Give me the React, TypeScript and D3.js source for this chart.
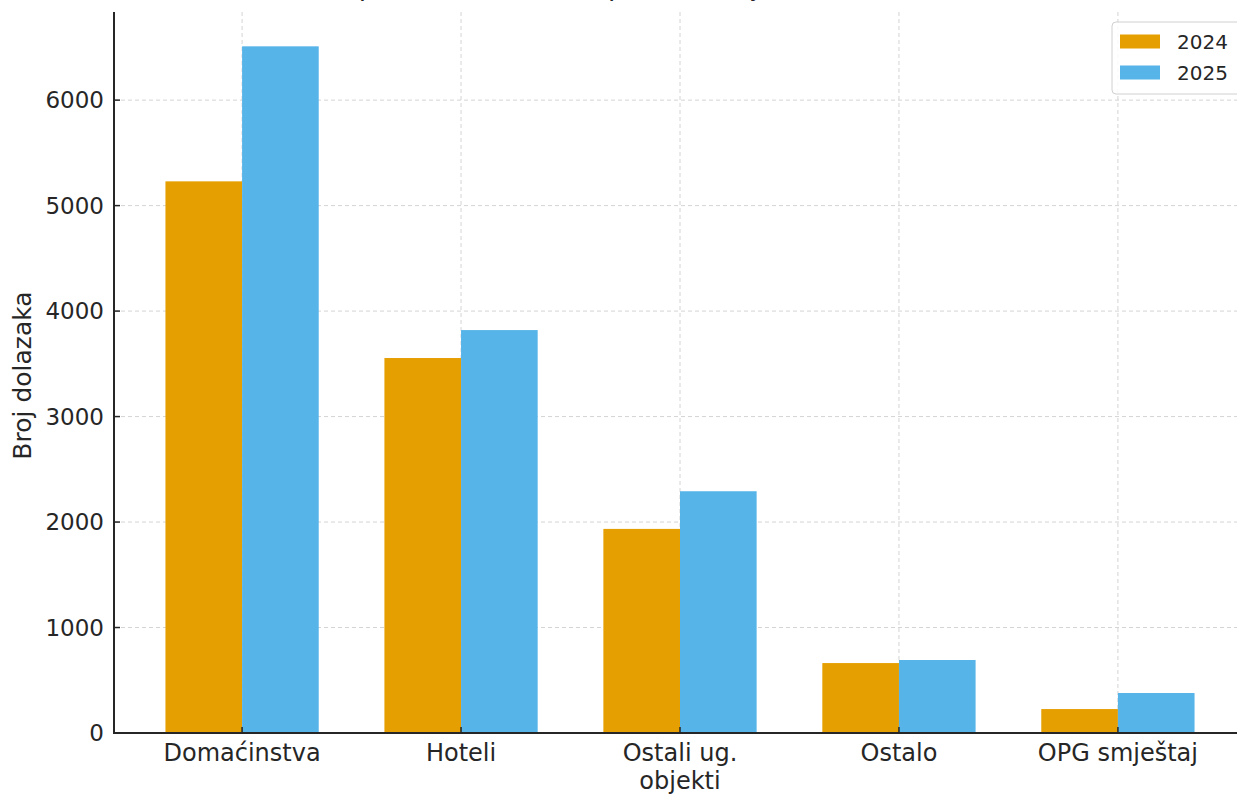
import React, { useEffect, useRef } from 'react';
import * as d3 from 'd3';

// Accommodation categories and arrivals per year
const categories = ['Domaćinstva', 'Hoteli', 'Ostali ug.\nobjekti', 'Ostalo', 'OPG smještaj'];
const years = ['2024', '2025'];
const values2024 = [5230, 3555, 1935, 663, 227];
const values2025 = [6510, 3820, 2292, 692, 379];
const yTicks = [0, 1000, 2000, 3000, 4000, 5000, 6000];

const colors = ['#E69F00', '#56B4E9'];
const textColor = '#262626';
const font = "'DejaVu Sans', sans-serif";

const App = () => {
  const svgRef = useRef<SVGSVGElement | null>(null);

  useEffect(() => {
    if (!svgRef.current) return;
    const width = 1237;
    const height = 794;
    const svg = d3.select(svgRef.current);
    svg.attr('viewBox', `0 0 ${width} ${height}`);
    svg.selectAll('*').remove();

    const barW = 0.35;
    const n = categories.length;
    const xMin = -barW - 0.05 * (n - 1 + 2 * barW);
    const xMax = n - 1 + barW + 0.05 * (n - 1 + 2 * barW);
    const x = d3.scaleLinear().domain([xMin, xMax]).range([114, 1246]);

    const maxVal = d3.max([...values2024, ...values2025])!;
    const y = d3.scaleLinear().domain([0, maxVal * 1.05]).range([733, 12]);

    const series = [values2024, values2025];

    // Grid (behind bars)
    const grid = svg.append('g');
    yTicks.forEach(t => {
      grid.append('line')
        .attr('x1', x(xMin)).attr('x2', x(xMax))
        .attr('y1', y(t)).attr('y2', y(t))
        .attr('stroke', '#d4d4d4').attr('stroke-width', 1)
        .attr('stroke-dasharray', '4,3');
    });
    categories.forEach((_, i) => {
      grid.append('line')
        .attr('x1', x(i)).attr('x2', x(i))
        .attr('y1', y.range()[1]).attr('y2', y(0))
        .attr('stroke', '#d4d4d4').attr('stroke-width', 1)
        .attr('stroke-dasharray', '4,3');
    });

    // Bars
    series.forEach((vals, s) => {
      svg.append('g').selectAll('rect')
        .data(vals)
        .enter().append('rect')
        .attr('x', (_, i) => x(i + (s === 0 ? -barW : 0)))
        .attr('width', x(barW) - x(0))
        .attr('y', d => y(d))
        .attr('height', d => y(0) - y(d))
        .attr('fill', colors[s]);
    });

    // Spines
    svg.append('line')
      .attr('x1', x(xMin)).attr('x2', x(xMin))
      .attr('y1', y.range()[1]).attr('y2', y(0) + 1)
      .attr('stroke', textColor).attr('stroke-width', 2);
    svg.append('line')
      .attr('x1', x(xMin) - 1).attr('x2', x(xMax))
      .attr('y1', y(0)).attr('y2', y(0))
      .attr('stroke', textColor).attr('stroke-width', 2);

    // Y ticks (inward) and labels
    yTicks.forEach(t => {
      svg.append('line')
        .attr('x1', x(xMin)).attr('x2', x(xMin) + 6)
        .attr('y1', y(t)).attr('y2', y(t))
        .attr('stroke', textColor).attr('stroke-width', 1.5);
      svg.append('text')
        .attr('x', x(xMin) - 10)
        .attr('y', y(t))
        .attr('dy', '0.36em')
        .attr('text-anchor', 'end')
        .attr('fill', textColor)
        .style('font-size', '23px')
        .style('font-family', font)
        .text(t);
    });

    // X ticks (inward) and labels
    categories.forEach((c, i) => {
      svg.append('line')
        .attr('x1', x(i)).attr('x2', x(i))
        .attr('y1', y(0)).attr('y2', y(0) - 6)
        .attr('stroke', textColor).attr('stroke-width', 1.5);
      const lines = c.split('\n');
      const txt = svg.append('text')
        .attr('text-anchor', 'middle')
        .attr('fill', textColor)
        .style('font-size', '24px')
        .style('font-family', font);
      lines.forEach((l, k) => {
        txt.append('tspan')
          .attr('x', x(i))
          .attr('y', 761 + k * 28)
          .text(l);
      });
    });

    // Y axis label
    svg.append('text')
      .attr('transform', `translate(31, ${(y(0) + y.range()[1]) / 2 + 3}) rotate(-90)`)
      .attr('text-anchor', 'middle')
      .attr('fill', textColor)
      .style('font-size', '25px')
      .style('font-family', font)
      .text('Broj dolazaka');

    // Title (mostly cropped off the top)
    svg.append('text')
      .attr('x', 670)
      .attr('y', -5)
      .attr('text-anchor', 'middle')
      .attr('fill', textColor)
      .style('font-size', '27px')
      .style('font-family', font)
      .text('Ukupni dolasci turista po vrsti objekta (2024 vs 2025)');

    // Legend
    const lg = svg.append('g');
    lg.append('rect')
      .attr('x', 1112).attr('y', 22)
      .attr('width', 150).attr('height', 72)
      .attr('rx', 4)
      .attr('fill', 'white').attr('fill-opacity', 0.85)
      .attr('stroke', '#d0d0d0').attr('stroke-width', 1);
    years.forEach((yr, k) => {
      lg.append('rect')
        .attr('x', 1120).attr('y', 34.5 + k * 31)
        .attr('width', 40).attr('height', 14)
        .attr('fill', colors[k]);
      lg.append('text')
        .attr('x', 1177).attr('y', 41.5 + k * 31)
        .attr('dy', '0.36em')
        .attr('fill', textColor)
        .style('font-size', '20px')
        .style('font-family', font)
        .text(yr);
    });
  }, []);

  return (
    <div style={{ position: 'absolute', left: 0, top: 0, width: 1237, height: 794, background: 'white' }}>
      <svg ref={svgRef} width={1237} height={794} style={{ display: 'block' }}></svg>
    </div>
  );
};

export default App;
